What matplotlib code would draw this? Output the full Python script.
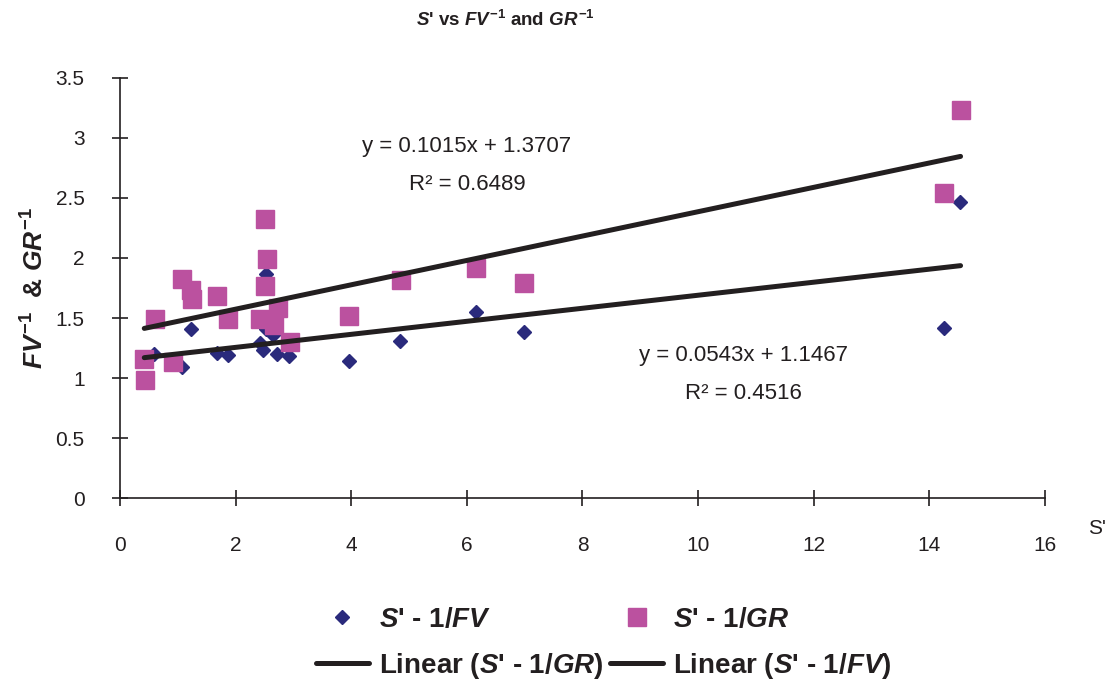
import numpy as np
import matplotlib
matplotlib.use("Agg")
import matplotlib.pyplot as plt

plt.rcParams['font.family'] = ['Liberation Sans', 'DejaVu Sans']
plt.rcParams['mathtext.fontset'] = 'custom'
plt.rcParams['mathtext.rm'] = 'Liberation Sans:bold'
plt.rcParams['mathtext.it'] = 'Liberation Sans:italic:bold'
plt.rcParams['mathtext.bf'] = 'Liberation Sans:bold'

# S' against 1/FV (diamonds)
s_fv = [0.59, 1.08, 1.23, 1.67, 1.86, 2.42, 2.47, 2.52, 2.53, 2.65, 2.71, 2.93,
        3.96, 4.84, 6.15, 6.98, 14.26, 14.53]
inv_fv = [1.20, 1.09, 1.41, 1.21, 1.19, 1.29, 1.23, 1.41, 1.867, 1.36, 1.20, 1.18,
          1.14, 1.31, 1.55, 1.38, 1.414, 2.47]

# S' against 1/GR (squares)
s_gr = [0.42, 0.43, 0.61, 0.92, 1.08, 1.22, 1.24, 1.68, 1.86, 2.43, 2.50, 2.51,
        2.54, 2.66, 2.73, 2.94, 3.96, 4.86, 6.15, 6.98, 14.26, 14.54]
inv_gr = [1.16, 0.98, 1.49, 1.13, 1.825, 1.73, 1.66, 1.686, 1.49, 1.49, 1.77, 2.325,
          1.99, 1.44, 1.58, 1.30, 1.517, 1.817, 1.92, 1.79, 2.544, 3.23]

# trend lines as printed on the chart
gr_slope, gr_icpt, gr_r2 = 0.1015, 1.3707, 0.6489
fv_slope, fv_icpt, fv_r2 = 0.0543, 1.1467, 0.4516

navy = '#2a2a7c'
pink = '#bb519f'
dark = '#231f20'

fig = plt.figure(figsize=(11.1, 6.84), dpi=100)
ax = fig.add_axes([0.1081, 0.2719, 0.8333, 0.6141])

h_fv, = ax.plot(s_fv, inv_fv, 'D', color=navy, markersize=7.5, linestyle='none',
                label="$S$' - 1/$FV$", zorder=2)
h_gr, = ax.plot(s_gr, inv_gr, 's', color=pink, markersize=12.5, linestyle='none',
                label="$S$' - 1/$GR$", zorder=3)

xs = np.array([min(s_gr + s_fv), max(s_gr + s_fv)])
h_lgr, = ax.plot(xs, gr_slope * xs + gr_icpt, color=dark, lw=3.6,
                 solid_capstyle='round', label="Linear ($S$' - 1/$GR$)", zorder=4)
h_lfv, = ax.plot(xs, fv_slope * xs + fv_icpt, color=dark, lw=3.6,
                 solid_capstyle='round', label="Linear ($S$' - 1/$FV$)", zorder=4)

ax.text(6.0, 2.925, f"y = {gr_slope}x + {gr_icpt}", fontsize=16, ha='center', va='center', color=dark)
ax.text(6.0, 2.61, f"R\u00b2 = {gr_r2}", fontsize=16, ha='center', va='center', color=dark)
ax.text(10.78, 1.19, f"y = {fv_slope}x + {fv_icpt}", fontsize=16, ha='center', va='center', color=dark)
ax.text(10.78, 0.875, f"R\u00b2 = {fv_r2}", fontsize=16, ha='center', va='center', color=dark)

ax.set_xlim(0, 16)
ax.set_ylim(0, 3.5)
ax.set_xticks(np.arange(0, 17, 2))
ax.set_yticks(np.arange(0, 3.6, 0.5))
ax.set_yticklabels(['0', '0.5', '1', '1.5', '2', '2.5', '3', '3.5'])
for side in ['top', 'right']:
    ax.spines[side].set_visible(False)
for side in ['left', 'bottom']:
    ax.spines[side].set_color(dark)
    ax.spines[side].set_linewidth(1.2)
ax.tick_params(direction='inout', length=12, width=1.2, color=dark,
               labelsize=15, labelcolor=dark)
ax.tick_params(axis='y', pad=19.5)
ax.tick_params(axis='x', pad=21)

fig.text(35 / 1110, 1 - 288 / 684, "$FV^{-1}$  & $GR^{-1}$", rotation=90,
         fontsize=19, fontweight='bold', ha='center', va='center', color=dark)
fig.text(1097 / 1110, 1 - 528 / 684, "S'", fontsize=15, ha='center', va='center',
         color=dark)
fig.text(505 / 1110, 1 - 20 / 684, "$S$' vs $FV^{-1}$ and $GR^{-1}$",
         fontsize=13.5, fontweight='bold', ha='center', va='center', color=dark)

leg = fig.legend(handles=[h_fv, h_lgr, h_gr, h_lfv], ncol=2, loc='upper left',
                 bbox_to_anchor=(0.2845, 0.113), frameon=False, borderpad=0,
                 borderaxespad=0, handlelength=1.9, handletextpad=0.36,
                 columnspacing=0.25, labelspacing=0.65,
                 prop={'size': 20, 'weight': 'bold'})
for t in leg.get_texts():
    t.set_color(dark)

fig.savefig('out.png', dpi=100)
